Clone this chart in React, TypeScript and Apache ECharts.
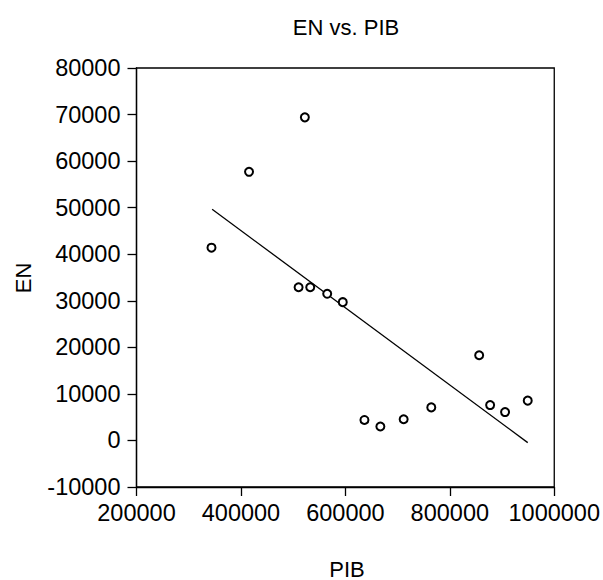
import React, { useEffect, useRef } from "react";
import * as echarts from "echarts";

const pib = [343600, 415500, 522400, 510400, 532700, 565200, 595000, 636500, 667000, 711600, 764500, 856200, 877200, 905800, 949200];
const en = [41400, 57700, 69400, 32900, 32900, 31500, 29700, 4400, 3000, 4550, 7100, 18300, 7600, 6100, 8550];
const fitLine = [
  [344800, 49660],
  [949200, -470],
];
const titleText = "EN vs. PIB";
const xName = "PIB";
const yName = "EN";

const FONT = "'Liberation Sans', Arial, sans-serif";

export default function App() {
  const ref = useRef<HTMLDivElement>(null);
  useEffect(() => {
    if (!ref.current) return;
    const chart = echarts.init(ref.current, undefined, { renderer: "svg" });
    chart.setOption({
      animation: false,
      backgroundColor: "#ffffff",
      grid: {
        left: 136.5,
        right: 48,
        top: 68,
        bottom: 93,
        show: true,
        borderColor: "#000",
        borderWidth: 1.3,
        backgroundColor: "transparent",
      },
      graphic: [
        {
          type: "text",
          x: 346,
          y: 27,
          style: { text: titleText, font: `22px ${FONT}`, fill: "#000", align: "center", verticalAlign: "middle" },
        },
        {
          type: "text",
          x: 347,
          y: 569,
          style: { text: xName, font: `22px ${FONT}`, fill: "#000", align: "center", verticalAlign: "middle" },
        },
        {
          type: "text",
          x: 23,
          y: 278,
          rotation: Math.PI / 2,
          style: { text: yName, font: `22px ${FONT}`, fill: "#000", align: "center", verticalAlign: "middle" },
        },
      ],
      xAxis: {
        type: "value",
        min: 200000,
        max: 1000000,
        interval: 200000,
        splitLine: { show: false },
        axisLine: { show: true, onZero: false, lineStyle: { color: "#000", width: 1.3 } },
        axisTick: { show: true, inside: false, length: 9, lineStyle: { color: "#000", width: 1.3 } },
        axisLabel: { color: "#000", fontSize: 23.5, fontFamily: FONT, margin: 14, formatter: (v: number) => String(v) },
      },
      yAxis: {
        type: "value",
        min: -10000,
        max: 80000,
        interval: 10000,
        splitLine: { show: false },
        axisLine: { show: true, onZero: false, lineStyle: { color: "#000", width: 1.3 } },
        axisTick: { show: true, inside: false, length: 9, lineStyle: { color: "#000", width: 1.3 } },
        axisLabel: { color: "#000", fontSize: 23.5, fontFamily: FONT, margin: 16, formatter: (v: number) => String(v) },
      },
      series: [
        {
          type: "line",
          data: fitLine,
          symbol: "none",
          lineStyle: { color: "#000", width: 1.3 },
          silent: true,
          z: 2,
        },
        {
          type: "scatter",
          data: pib.map((x, i) => [x, en[i]]),
          symbol: "circle",
          symbolSize: 8,
          itemStyle: { color: "#fff", borderColor: "#000", borderWidth: 2, opacity: 1 },
          z: 3,
        },
      ],
    });
    return () => chart.dispose();
  }, []);
  return <div ref={ref} style={{ width: 603, height: 580, position: "absolute", left: 0, top: 0 }} />;
}
